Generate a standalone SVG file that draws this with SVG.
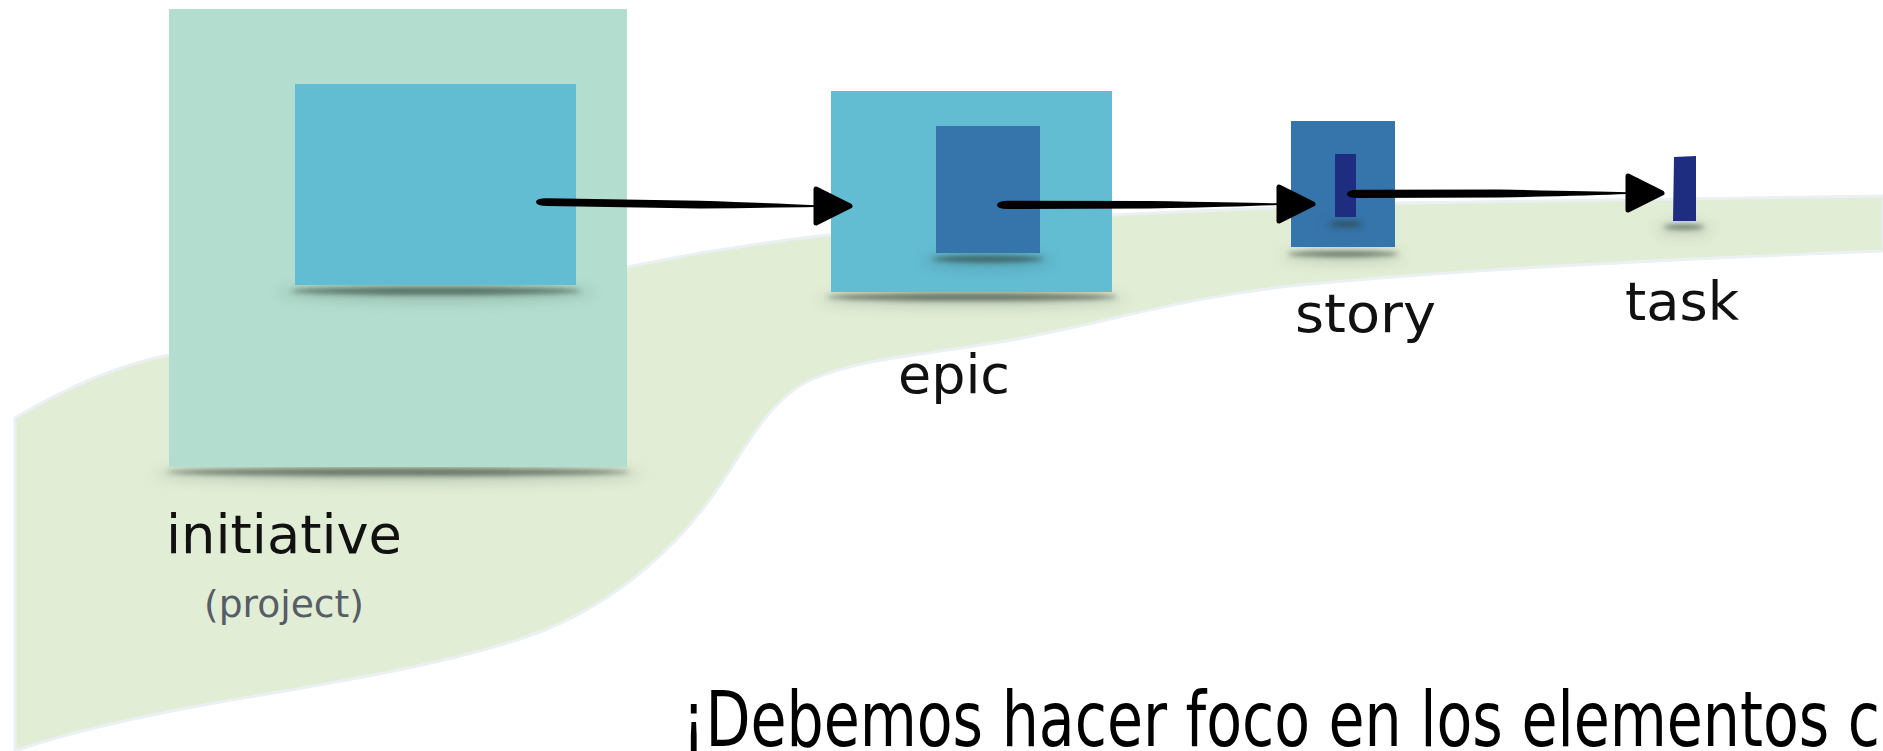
<svg xmlns="http://www.w3.org/2000/svg" xmlns:xlink="http://www.w3.org/1999/xlink" width="1883" height="751" viewBox="0 0 1883 751">
  <style>
    .lbl { font-family: "DejaVu Sans", "Liberation Sans", sans-serif; font-size: 54px; fill: #111; }
    .sub { font-family: "DejaVu Sans", "Liberation Sans", sans-serif; font-size: 38px; fill: #565d66; }
    .big { font-family: "DejaVu Sans", "Liberation Sans", sans-serif; font-size: 76px; fill: #000; font-stretch: condensed; }
    .c1 { fill: #b3decf; }
    .c2 { fill: #62bcd2; }
    .c3 { fill: #3675ac; }
    .c4 { fill: #1e2d80; }
    .sh { fill: #2c3a33; opacity: 0.6; filter: url(#blur); }
    .halo { fill: #2c3a33; opacity: 0.18; filter: url(#blur2); }
    .shaft { fill: #000; }
    .head { fill: #000; stroke: #000; stroke-width: 5; stroke-linejoin: round; }
  </style>
  <defs>
    <filter id="blur" x="-20%" y="-200%" width="140%" height="500%">
      <feGaussianBlur stdDeviation="2.5"/>
    </filter>
    <filter id="blur2" x="-20%" y="-200%" width="140%" height="500%">
      <feGaussianBlur stdDeviation="7"/>
    </filter>
    <path id="ah" class="head" d="M-2,0 L-36,-17 L-36,17 Z"/>
  </defs>

  <rect width="1883" height="751" fill="#ffffff"/>

  <g id="background">
    <path d="M15,418 C70,385 120,365 169,355 C300,330 500,290 700,253 C780,240 850,230 1000,221 C1150,212 1290,207 1400,203 L1883,196 L1883,251 C1700,258 1450,270 1300,285 C1180,297 1100,325 1000,342 C930,354 860,358 810,380 C770,400 750,440 720,485 C680,545 620,600 540,632 C450,665 320,685 220,702 C130,718 60,735 15,751 Z" fill="#e1edd5" stroke="#ebf0f3" stroke-width="3"/>
  </g>

  <g id="initiative">
    <ellipse class="halo" cx="398" cy="474" rx="245" ry="9"/>
    <ellipse class="sh" cx="398" cy="472" rx="232" ry="4"/>
    <rect class="c1" x="169" y="9" width="458" height="458"/>
    <ellipse class="halo" cx="436" cy="293" rx="160" ry="9"/>
    <ellipse class="sh" cx="436" cy="291" rx="145" ry="4"/>
    <rect class="c2" x="295" y="84" width="281" height="201"/>
    <text class="lbl" x="166" y="553" textLength="236" lengthAdjust="spacingAndGlyphs">initiative</text>
    <text class="sub" x="204" y="617" textLength="160" lengthAdjust="spacingAndGlyphs">(project)</text>
  </g>

  <g id="epic">
    <ellipse class="halo" cx="972" cy="299" rx="155" ry="8"/>
    <ellipse class="sh" cx="972" cy="297" rx="145" ry="4"/>
    <rect class="c2" x="831" y="91" width="281" height="201"/>
    <ellipse class="halo" cx="988" cy="261" rx="65" ry="7"/>
    <ellipse class="sh" cx="988" cy="259" rx="56" ry="3.5"/>
    <rect class="c3" x="936" y="126" width="104" height="127"/>
    <text class="lbl" x="898" y="393" textLength="112" lengthAdjust="spacingAndGlyphs">epic</text>
  </g>

  <g id="story">
    <ellipse class="halo" cx="1343" cy="256" rx="62" ry="6"/>
    <ellipse class="sh" cx="1343" cy="254" rx="55" ry="3"/>
    <rect class="c3" x="1291" y="121" width="104" height="126"/>
    <ellipse class="halo" cx="1346" cy="226" rx="22" ry="5"/>
    <ellipse class="sh" cx="1346" cy="224" rx="16" ry="2.5"/>
    <rect class="c4" x="1335" y="154" width="21" height="63"/>
    <text class="lbl" x="1295" y="332" textLength="141" lengthAdjust="spacingAndGlyphs">story</text>
  </g>

  <g id="task">
    <ellipse class="halo" cx="1684" cy="229" rx="28" ry="6"/>
    <ellipse class="sh" cx="1684" cy="227" rx="20" ry="2.5"/>
    <path class="c4" d="M1674,157 L1696,156 L1696,221 L1673,221 Z"/>
    <text class="lbl" x="1625" y="320" textLength="114" lengthAdjust="spacingAndGlyphs">task</text>
  </g>

  <g id="connectors">
    <g id="arrow-initiative-epic">
      <path class="shaft" d="M536,202 Q536,198 548,198.3 L700,200.8 Q780,203.5 815,205.2 L815,207 Q780,207.5 700,208.5 L548,206 Q536,206 536,202 Z"/>
      <use xlink:href="#ah" href="#ah" transform="translate(852,206)"/>
    </g>
    <g id="arrow-epic-story">
      <path class="shaft" d="M997,205 Q997,201 1008,200.8 L1150,201 Q1240,202.5 1277,203.3 L1277,205 Q1240,206.5 1150,208.5 L1008,209 Q997,209 997,205 Z"/>
      <use xlink:href="#ah" href="#ah" transform="translate(1315,204)"/>
    </g>
    <g id="arrow-story-task">
      <path class="shaft" d="M1347,194 Q1347,190 1358,189.8 L1500,189.5 Q1590,191.5 1627,192.3 L1627,194 Q1590,195.5 1500,197.5 L1358,198 Q1347,198 1347,194 Z"/>
      <use xlink:href="#ah" href="#ah" transform="translate(1664,193)"/>
    </g>
  </g>

  <g id="caption">
    <text class="big" x="682" y="746" textLength="1198" lengthAdjust="spacingAndGlyphs">¡Debemos hacer foco en los elementos c</text>
  </g>
</svg>
